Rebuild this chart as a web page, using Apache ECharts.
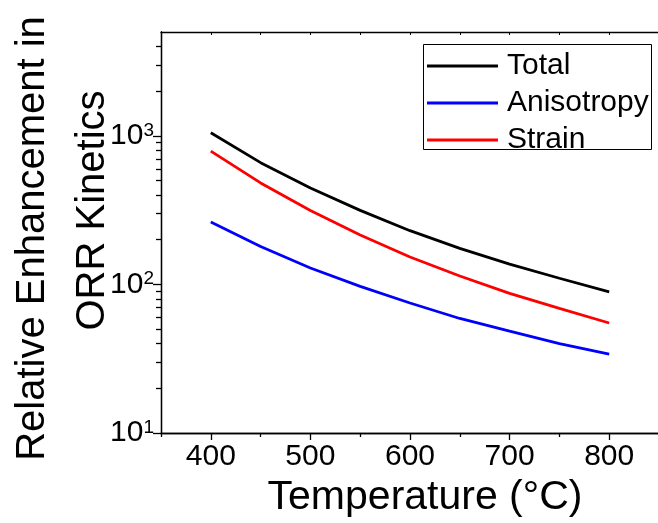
<!DOCTYPE html>
<html>
<head>
<meta charset="utf-8">
<script src="https://cdn.jsdelivr.net/npm/echarts@6/dist/echarts.min.js"></script>
<style>
  html, body { margin: 0; padding: 0; background: #fff; }
  #chart { width: 658px; height: 523px; }
</style>
</head>
<body>
<div id="chart"></div>
<script>
// Temperature (°C) sample points
var temperatures = [400, 450, 500, 550, 600, 650, 700, 750, 800];
// Relative enhancement in ORR kinetics for each contribution
var totalValues      = [1050, 660, 445, 315, 230, 175, 137, 110, 89];
var anisotropyValues = [263, 180, 129, 97, 75, 59, 48.5, 40, 34];
var strainValues     = [790, 482, 314, 215, 153, 114, 87, 69, 55];

var seriesNames = ['Total', 'Anisotropy', 'Strain'];
var seriesColors = ['#000000', '#0000ff', '#ff0000'];

// Tick positions
var xMajorTicks = [400, 500, 600, 700, 800];
var xMinorTicks = [350, 450, 550, 650, 750, 850];
var xTopTicks = [350, 400, 450, 500, 550, 600, 650, 700, 750, 800, 850];
var yMajorTicks = [10, 100, 1000];
var yMinorTicks = [20, 30, 40, 50, 60, 70, 80, 90,
                   200, 300, 400, 500, 600, 700, 800, 900,
                   2000, 3000, 4000];

var FONT = 'Liberation Sans, Arial, Helvetica, sans-serif';

function pairs(xs, ys) {
  return xs.map(function (x, i) { return [x, ys[i]]; });
}

var chart = echarts.init(document.getElementById('chart'), null, { renderer: 'canvas' });

var axisLine = { show: true, lineStyle: { color: '#000', width: 1.3 } };

var option = {
  animation: false,
  backgroundColor: '#fff',
  textStyle: { fontFamily: FONT },
  grid: { left: 161, top: 32, width: 498, height: 401, containLabel: false, outerBoundsMode: 'none' },
  legend: {
    data: seriesNames,
    orient: 'vertical',
    left: 421,
    top: 42,
    icon: 'rect',
    itemWidth: 71,
    itemHeight: 3,
    itemGap: 7,
    padding: [9, 5, 0, 6],
    borderWidth: 0,
    textStyle: { fontFamily: FONT, fontSize: 30, color: '#000', padding: [0, 0, 0, 4] }
  },
  graphic: [
    {
      // legend frame
      type: 'rect', left: 421, top: 42, z: 10, silent: true,
      shape: { width: 228, height: 105 },
      style: { fill: 'none', stroke: '#000', lineWidth: 1 }
    }
  ],
  xAxis: [
    {
      type: 'value', position: 'bottom', min: 350, max: 850,
      name: 'Temperature (\u00B0C)', nameLocation: 'middle', nameGap: 44, nameMoveOverlap: false,
      nameTextStyle: { fontFamily: FONT, fontSize: 41, color: '#000', padding: [0, 0, 0, 30] },
      axisLine: axisLine,
      axisTick: { show: true, inside: false, length: 7, customValues: xMajorTicks, lineStyle: { color: '#000', width: 1.3 } },
      axisLabel: { show: true, customValues: xMajorTicks, margin: 9, fontFamily: FONT, fontSize: 30, color: '#000' },
      splitLine: { show: false }
    },
    {
      type: 'value', position: 'bottom', min: 350, max: 850,
      axisLine: axisLine,
      axisTick: { show: true, inside: false, length: 4, customValues: xMinorTicks, lineStyle: { color: '#000', width: 1.3 } },
      axisLabel: { show: false },
      splitLine: { show: false }
    },
    {
      type: 'value', position: 'top', min: 350, max: 850,
      axisLine: axisLine,
      axisTick: { show: true, inside: true, length: 3, customValues: xTopTicks, lineStyle: { color: '#000', width: 1 } },
      axisLabel: { show: false },
      splitLine: { show: false }
    }
  ],
  yAxis: [
    {
      type: 'log', logBase: 10, position: 'left', min: 10, max: 5000,
      name: '{a|Relative Enhancement in}\n{b|ORR Kinetics}',
      nameLocation: 'middle', nameRotate: 90, nameGap: 38, nameMoveOverlap: false,
      nameTextStyle: {
        fontFamily: FONT, fontSize: 40, color: '#000', lineHeight: 60, align: 'center',
        rich: {
          a: { fontFamily: FONT, fontSize: 40, lineHeight: 60, color: '#000', padding: [0, 12, 0, 0] },
          b: { fontFamily: FONT, fontSize: 40, lineHeight: 60, color: '#000', padding: [0, 0, 0, 44] }
        }
      },
      axisLine: axisLine,
      axisTick: { show: true, inside: false, length: 8, customValues: yMajorTicks, lineStyle: { color: '#000', width: 1.3 } },
      axisLabel: {
        show: true, customValues: yMajorTicks, margin: 7,
        formatter: function (v) {
          var e = Math.round(Math.log(v) / Math.LN10);
          return '{b|10}{s|' + e + '}';
        },
        rich: {
          b: { fontFamily: FONT, fontSize: 30, lineHeight: 30, color: '#000' },
          s: { fontFamily: FONT, fontSize: 19, lineHeight: 19, color: '#000', verticalAlign: 'top' }
        }
      },
      splitLine: { show: false }
    },
    {
      type: 'log', logBase: 10, position: 'left', min: 10, max: 5000,
      axisLine: axisLine,
      axisTick: { show: true, inside: false, length: 5, customValues: yMinorTicks, lineStyle: { color: '#000', width: 1.3 } },
      axisLabel: { show: false },
      splitLine: { show: false }
    }
  ],
  series: [
    { name: 'Total', data: pairs(temperatures, totalValues) },
    { name: 'Anisotropy', data: pairs(temperatures, anisotropyValues) },
    { name: 'Strain', data: pairs(temperatures, strainValues) }
  ].map(function (s, i) {
    return {
      name: s.name, type: 'line', xAxisIndex: 0, yAxisIndex: 0,
      data: s.data, symbol: 'none', showSymbol: false,
      lineStyle: { color: seriesColors[i], width: 2.8 },
      itemStyle: { color: seriesColors[i] },
      z: 3
    };
  })
};

chart.setOption(option);
</script>
</body>
</html>
